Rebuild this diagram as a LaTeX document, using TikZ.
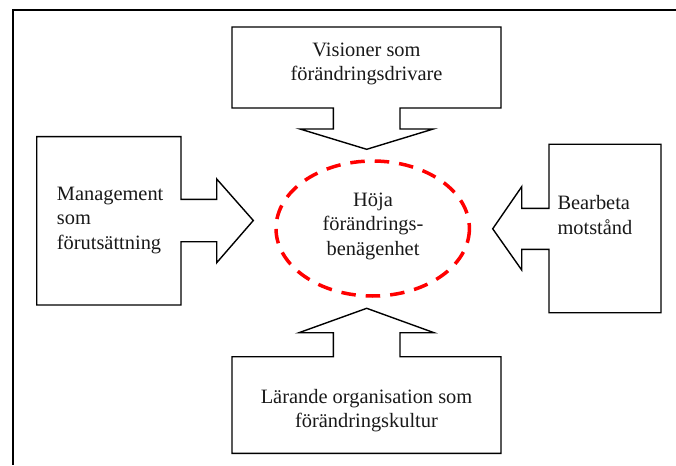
\documentclass[tikz,border=0pt]{standalone}
\usepackage{fontspec}
\setmainfont{Liberation Serif}
\definecolor{dashred}{RGB}{255,0,0}
\begin{document}
\begin{tikzpicture}[x=1pt,y=-1pt,
  callout/.style={draw=black,line width=1.4pt,line join=miter,fill=white},
  label/.style={inner sep=0pt,font=\fontsize{20.4}{24.3}\selectfont,text=black!90},
  goal/.style={draw=dashred,line width=3.5pt,dash pattern=on 14.5pt off 10pt}]
\useasboundingbox (0,0) rectangle (676,465);

% page frame (only top and left edges fall inside)
\draw[line width=1.5pt] (676,10) -- (13,10) -- (13,465);

% top box with arrow pointing down
\draw[callout] (232,27) -- (501,27) -- (501,108) -- (400,108) -- (400,129)
  -- (433.3,129) -- (366.7,149.3) -- (300,129) -- (333.3,129) -- (333.3,108)
  -- (232,108) -- cycle;

% left box with arrow pointing right
\draw[callout] (36.7,136.7) -- (181,136.7) -- (181,199.3) -- (216.7,199.3)
  -- (216.7,179) -- (253.3,220.5) -- (216.7,262.7) -- (216.7,241.7)
  -- (181,241.7) -- (181,305) -- (36.7,305) -- cycle;

% right box with arrow pointing left
\draw[callout] (549,144.3) -- (661,144.3) -- (661,312.7) -- (549,312.7)
  -- (549,249.3) -- (521.7,249.3) -- (521.7,270) -- (492.7,228.8)
  -- (521.7,186.7) -- (521.7,208.3) -- (549,208.3) -- cycle;

% bottom box with arrow pointing up
\draw[callout] (232,356.7) -- (333.3,356.7) -- (333.3,332.7) -- (299,332.7)
  -- (366.7,308.3) -- (434,332.7) -- (400,332.7) -- (400,356.7)
  -- (501,356.7) -- (501,453.3) -- (232,453.3) -- cycle;

% central goal
\draw[goal] (372.7,228.5) ellipse [x radius=96.7, y radius=67.5];

% texts
\node[label,align=center] (vision) at (366.5,63.7) {Visioner som\\förändringsdrivare};
\node[label,align=left,anchor=west] (mgmt) at (56.7,220.4) {Management\\som\\förutsättning};
\node[label,align=center] (goaltext) at (373,226.2) {Höja\\förändrings-\\benägenhet};
\node[label,align=left,anchor=west] (resist) at (557.3,214.9) {Bearbeta\\motstånd};
\node[label,align=center] (learn) at (366.5,410.4) {Lärande organisation som\\förändringskultur};
\end{tikzpicture}
\end{document}
